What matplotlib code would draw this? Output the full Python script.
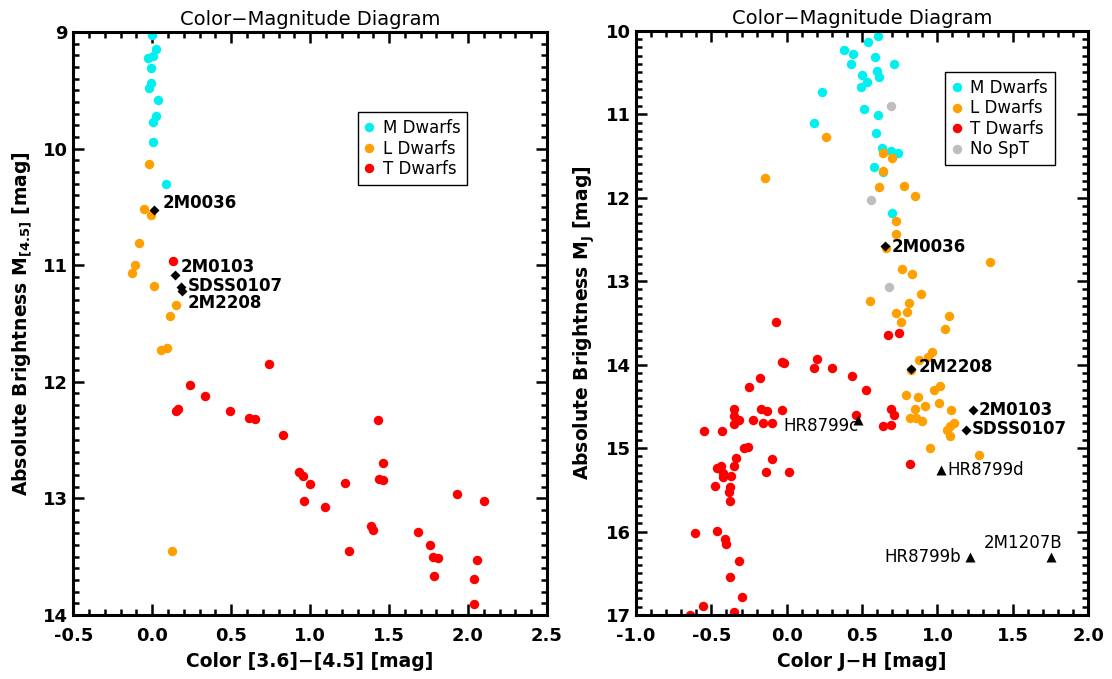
import matplotlib
matplotlib.use("Agg")
import matplotlib.pyplot as plt
from matplotlib.ticker import MultipleLocator, FormatStrFormatter

plt.rcParams['font.family'] = ['DejaVu Sans']
plt.rcParams['mathtext.fontset'] = 'dejavusans'
plt.rcParams['axes.unicode_minus'] = True

# ---------------- Left panel data: [3.6]-[4.5] vs M[4.5] ----------------
left_M_x = [0.000, 0.023, -0.029, 0.002, -0.008, -0.006, -0.019, 0.034, 0.023, 0.002, 0.002, 0.085]
left_M_y = [9.03, 9.15, 9.22, 9.21, 9.31, 9.44, 9.48, 9.58, 9.72, 9.77, 9.94, 10.30]

left_L_x = [-0.019, -0.050, -0.008, -0.086, -0.109, -0.128, 0.013, 0.152, 0.112, 0.053, 0.095, 0.127]
left_L_y = [10.13, 10.52, 10.57, 10.81, 11.00, 11.07, 11.18, 11.34, 11.44, 11.73, 11.71, 13.45]

left_T_x = [0.133, 0.74, 0.24, 0.332, 0.152, 0.165, 0.492, 0.61, 0.652, 0.83, 1.428, 0.928, 0.952,
            1.0, 0.96, 1.093, 1.22, 1.46, 1.437, 1.46, 1.388, 1.399, 1.249, 1.68, 1.758, 1.775,
            1.81, 1.787, 1.927, 2.098, 2.057, 2.038, 2.036]
left_T_y = [10.96, 11.85, 12.03, 12.12, 12.25, 12.23, 12.25, 12.31, 12.32, 12.46, 12.33, 12.77, 12.81,
            12.88, 13.02, 13.07, 12.87, 12.70, 12.83, 12.84, 13.24, 13.27, 13.45, 13.29, 13.40, 13.50,
            13.51, 13.67, 12.96, 13.02, 13.53, 13.69, 13.91]

left_tgt_names = ['2M0036', '2M0103', 'SDSS0107', '2M2208']
left_tgt_x = [0.011, 0.142, 0.18, 0.19]
left_tgt_y = [10.53, 11.08, 11.19, 11.22]

# ---------------- Right panel data: J-H vs M_J ----------------
right_M_x = [0.603, 0.536, 0.377, 0.441, 0.589, 0.709, 0.424, 0.596, 0.609, 0.499, 0.530, 0.494,
             0.232, 0.510, 0.603, 0.181, 0.591, 0.629, 0.689, 0.739, 0.578, 0.640, 0.697]
right_M_y = [10.06, 10.14, 10.23, 10.28, 10.31, 10.40, 10.40, 10.48, 10.55, 10.53, 10.62, 10.67,
             10.73, 10.94, 11.01, 11.10, 11.22, 11.41, 11.44, 11.46, 11.63, 11.69, 12.19]

right_L_x = [0.26, -0.146, 0.638, 0.699, 0.64, 0.611, 0.779, 0.848, 0.728, 0.728, 0.768, 0.83,
             0.889, 0.552, 0.81, 0.728, 0.801, 0.759, 0.66, 1.346, 1.077, 1.05, 0.878, 0.94,
             0.967, 0.828, 0.79, 0.87, 0.977, 1.017, 1.011, 0.852, 0.92, 1.093, 0.817, 0.861,
             0.898, 1.11, 1.064, 1.081, 1.086, 0.949, 1.276]
right_L_y = [11.27, 11.76, 11.47, 11.53, 11.68, 11.87, 11.86, 11.98, 12.28, 12.43, 12.86, 12.92,
             13.15, 13.24, 13.26, 13.38, 13.37, 13.49, 12.60, 12.77, 13.42, 13.57, 13.95, 13.91,
             13.85, 14.07, 14.36, 14.39, 14.30, 14.26, 14.46, 14.53, 14.50, 14.55, 14.64, 14.64,
             14.68, 14.70, 14.78, 14.74, 14.86, 15.00, 15.08]

right_T_x = [-0.069, 0.669, 0.748, -0.029, -0.016, 0.199, 0.179, 0.298, 0.43, 0.527, -0.179, -0.25,
             -0.349, -0.168, -0.128, -0.029, 0.459, 0.689, 0.709, 0.638, 0.693, -0.349, -0.32,
             -0.349, -0.221, -0.159, -0.097, -0.548, -0.428, -0.281, -0.256, -0.338, -0.097,
             -0.349, -0.46, -0.437, -0.424, -0.367, -0.42, -0.135, 0.013, 0.819, -0.477, -0.375,
             -0.382, -0.375, -0.609, -0.46, -0.409, -0.402, -0.318, -0.378, -0.298, -0.559,
             -0.349, -0.64]
right_T_y = [13.49, 13.65, 13.62, 13.97, 13.98, 13.93, 14.04, 14.04, 14.14, 14.30, 14.16, 14.27,
             14.53, 14.53, 14.56, 14.55, 14.60, 14.53, 14.60, 14.74, 14.72, 14.62, 14.67,
             14.71, 14.67, 14.70, 14.70, 14.80, 14.80, 15.00, 14.99, 15.12, 15.13,
             15.21, 15.24, 15.22, 15.30, 15.34, 15.35, 15.29, 15.29, 15.19, 15.45, 15.47,
             15.53, 15.63, 16.02, 15.99, 16.09, 16.15, 16.35, 16.54, 16.79, 16.89,
             16.97, 17.00]

right_N_x = [0.689, 0.558, 0.677]
right_N_y = [10.90, 12.03, 13.07]

right_tgt_names = ['2M0036', '2M2208', '2M0103', 'SDSS0107']
right_tgt_x = [0.651, 0.828, 1.236, 1.187]
right_tgt_y = [12.58, 14.05, 14.55, 14.78]

planet_names = ['HR8799c', 'HR8799d', 'HR8799b', '2M1207B']
planet_x = [0.474, 1.026, 1.218, 1.755]
planet_y = [14.66, 15.26, 16.31, 16.31]

C_M, C_L, C_T, C_N = '#00F0F0', '#FFA000', '#FF0000', '#BEBEBE'
MS = 6.8

fig = plt.figure(figsize=(11.12, 6.79), dpi=100)
axL = fig.add_axes([0.0659, 0.0943, 0.426, 0.8586])
axR = fig.add_axes([0.572, 0.0943, 0.4065, 0.8605])


def style_axes(ax, xlim, ylim, xlabel, ylabel):
    ax.set_xlim(*xlim)
    ax.set_ylim(*ylim)
    ax.xaxis.set_major_locator(MultipleLocator(0.5))
    ax.xaxis.set_minor_locator(MultipleLocator(0.1))
    ax.yaxis.set_major_locator(MultipleLocator(1))
    ax.yaxis.set_minor_locator(MultipleLocator(0.1))
    ax.xaxis.set_major_formatter(FormatStrFormatter('%.1f'))
    ax.yaxis.set_major_formatter(FormatStrFormatter('%d'))
    ax.tick_params(which='both', direction='in', top=True, right=True, width=1.8)
    ax.tick_params(which='major', length=8)
    ax.tick_params(which='minor', length=4)
    ax.tick_params(axis='x', which='major', pad=9)
    ax.tick_params(axis='y', which='major', pad=4)
    for lab in ax.get_xticklabels() + ax.get_yticklabels():
        lab.set_fontweight('bold')
        lab.set_fontsize(13)
    for sp in ax.spines.values():
        sp.set_linewidth(2.2)
    ax.set_xlabel(xlabel, fontsize=13.5, fontweight='bold', labelpad=5)
    ax.set_ylabel(ylabel, fontsize=13.5, fontweight='bold', labelpad=6)
    ax.set_title('Color\u2212Magnitude Diagram', fontsize=14, pad=5)


# ---- Left panel ----
axL.plot(left_M_x, left_M_y, 'o', color=C_M, ms=MS, mec='none', label='M Dwarfs')
axL.plot(left_L_x, left_L_y, 'o', color=C_L, ms=MS, mec='none', label='L Dwarfs')
axL.plot(left_T_x, left_T_y, 'o', color=C_T, ms=MS, mec='none', label='T Dwarfs')
axL.plot(left_tgt_x, left_tgt_y, 'D', color='black', ms=5, mec='none')
left_offsets = [(6.5, 5.4), (4.5, 5.3), (4.8, 1.3), (3.6, -9.1)]
for n, x, y, off in zip(left_tgt_names, left_tgt_x, left_tgt_y, left_offsets):
    axL.annotate(n, (x, y), xytext=off, textcoords='offset points', ha='left', va='center',
                 fontsize=12, fontweight='bold')
style_axes(axL, (-0.5, 2.5), (14, 9), 'Color [3.6]\u2212[4.5] [mag]',
           r'Absolute Brightness M$_{\mathbf{[4.5]}}$ [mag]')

# ---- Right panel ----
axR.plot(right_M_x, right_M_y, 'o', color=C_M, ms=MS, mec='none', label='M Dwarfs')
axR.plot(right_L_x, right_L_y, 'o', color=C_L, ms=MS, mec='none', label='L Dwarfs')
axR.plot(right_T_x, right_T_y, 'o', color=C_T, ms=MS, mec='none', label='T Dwarfs')
axR.plot(right_N_x, right_N_y, 'o', color=C_N, ms=MS, mec='none', label='No SpT')
axR.plot(right_tgt_x, right_tgt_y, 'D', color='black', ms=5, mec='none')
right_offsets = [(4.8, -0.7), (4.8, 1.2), (4.3, 0.5), (4.1, 0.2)]
for n, x, y, off in zip(right_tgt_names, right_tgt_x, right_tgt_y, right_offsets):
    axR.annotate(n, (x, y), xytext=off, textcoords='offset points', ha='left', va='center',
                 fontsize=12, fontweight='bold')
axR.plot(planet_x, planet_y, '^', color='black', ms=7, mec='none')
planet_offsets = [(0, -4.3), (4, -0.5), (-6.5, 0), (8.1, 10.4)]
planet_ha = ['right', 'left', 'right', 'right']
for n, x, y, off, ha in zip(planet_names, planet_x, planet_y, planet_offsets, planet_ha):
    axR.annotate(n, (x, y), xytext=off, textcoords='offset points', ha=ha, va='center',
                 fontsize=12)
style_axes(axR, (-1.0, 2.0), (17, 10), 'Color J\u2212H [mag]',
           r'Absolute Brightness M$_{\mathbf{J}}$ [mag]')

for ax, anchor in ((axL, (0.6, 0.862)), (axR, (0.684, 0.929))):
    leg = ax.legend(loc='upper left', bbox_to_anchor=anchor, fontsize=12, frameon=True,
                    fancybox=False, framealpha=1, edgecolor='black', handlelength=0.6,
                    handletextpad=0.5, labelspacing=0.15, borderpad=0.4, borderaxespad=0,
                    markerscale=1.0)
    leg.get_frame().set_linewidth(1.0)

fig.savefig('out.png', dpi=100)
